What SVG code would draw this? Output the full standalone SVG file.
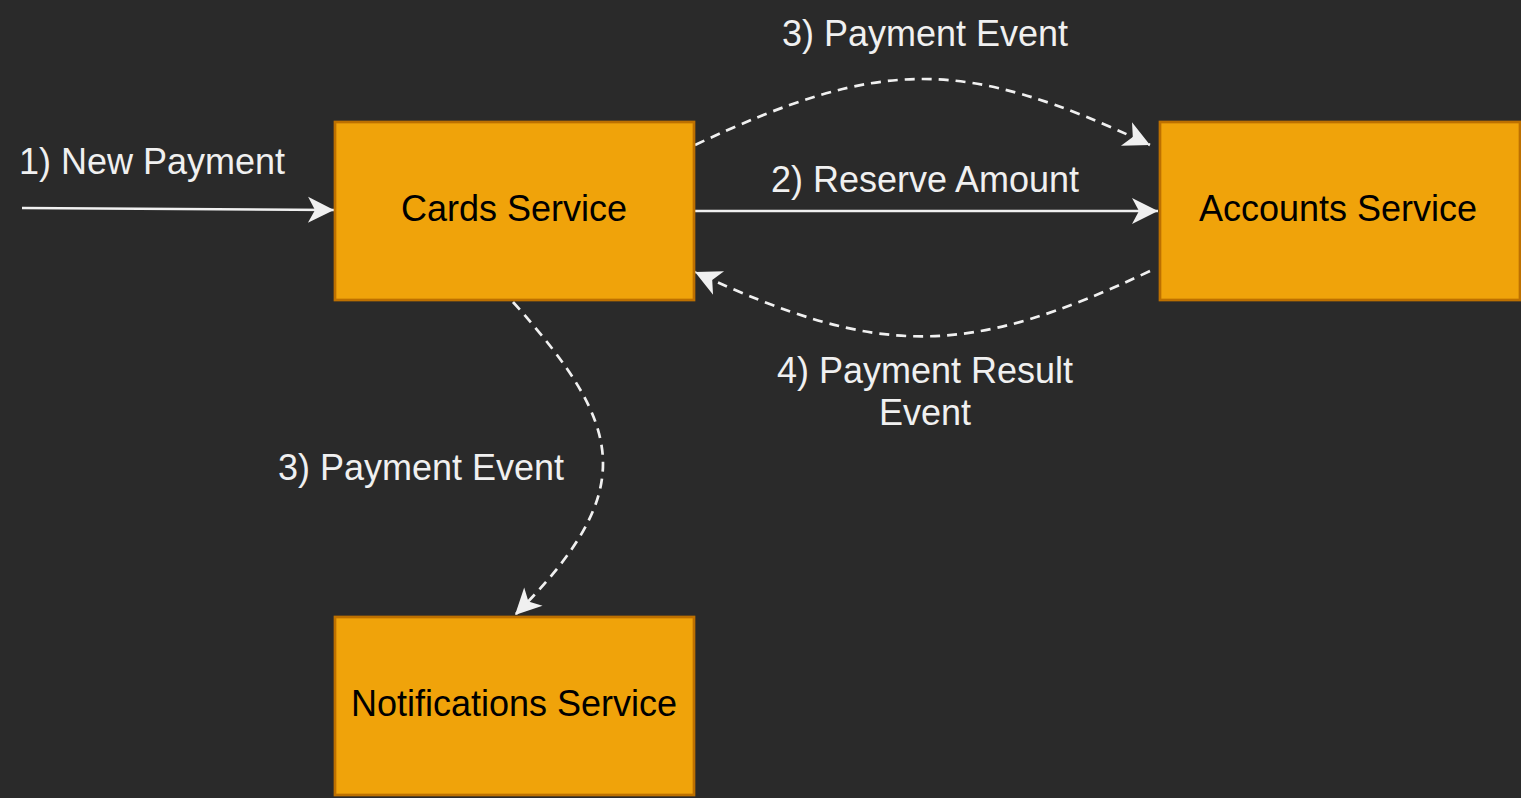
<svg xmlns="http://www.w3.org/2000/svg" width="1521" height="798" viewBox="0 0 1521 798">
<style>
.node{fill:#f0a30a;stroke:#bd7000;stroke-width:2.7}
.nt{font-family:"Liberation Sans",Arial,sans-serif;font-size:36px;fill:#000;text-anchor:middle}
.lbl{font-family:"Liberation Sans",Arial,sans-serif;font-size:36px;fill:#f0f0f0;text-anchor:middle}
.edge{fill:none;stroke:#f0f0f0;stroke-width:2.7}
.dash{stroke-dasharray:10 7}
</style>
<defs>
<marker id="arr" markerUnits="userSpaceOnUse" viewBox="-27 -14 29 28" refX="0" refY="0" markerWidth="29" markerHeight="28" orient="auto">
<path d="M0,0 L-26,-13 L-19,0 L-26,13 Z" fill="#f0f0f0" stroke="none"/>
</marker>
</defs>
<rect width="1521" height="798" fill="#2a2a2a"/>
<g id="connectors">
<path class="edge" d="M22,208 L334,210" marker-end="url(#arr)"/>
<path class="edge" d="M695,211 L1158,211" marker-end="url(#arr)"/>
<path class="edge dash" d="M695,145 C882,57 963,57 1150,145" marker-end="url(#arr)"/>
<path class="edge dash" d="M1150,271 C966,358 879,358 695,272" marker-end="url(#arr)"/>
<path class="edge dash" d="M513,302 C625,427 640,490 515,615" marker-end="url(#arr)"/>
</g>
<g id="labels">
<text class="lbl" x="152" y="174">1) New Payment</text>
<text class="lbl" x="925" y="46">3) Payment Event</text>
<text class="lbl" x="925" y="192">2) Reserve Amount</text>
<text class="lbl" x="925" y="383">4) Payment Result</text>
<text class="lbl" x="925" y="425">Event</text>
<text class="lbl" x="421" y="480">3) Payment Event</text>
</g>
<g id="cards">
<rect class="node" x="335" y="122" width="359" height="178"/>
<text class="nt" x="514" y="221">Cards Service</text>
</g>
<g id="accounts">
<rect class="node" x="1160" y="122" width="360" height="178"/>
<text class="nt" x="1338" y="221">Accounts Service</text>
</g>
<g id="notifications">
<rect class="node" x="335" y="617" width="359" height="178"/>
<text class="nt" x="514" y="716">Notifications Service</text>
</g>
</svg>
